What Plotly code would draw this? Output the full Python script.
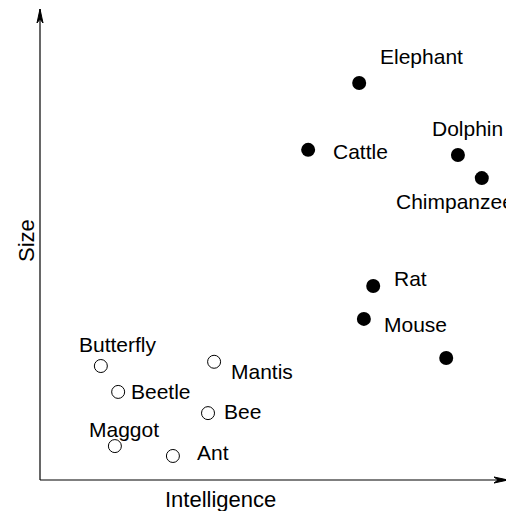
import plotly.graph_objects as go

# Data (arbitrary 0-100 scales)
big_names = ["Elephant", "Cattle", "Dolphin", "Chimpanzee", "Rat", "Mouse", ""]
big_intel = [68.2, 57.3, 89.3, 94.4, 71.2, 69.2, 86.8]
big_size = [84.3, 70.1, 69.0, 64.1, 41.2, 34.2, 25.9]

small_names = ["Butterfly", "Mantis", "Beetle", "Bee", "Maggot", "Ant"]
small_intel = [13.0, 37.2, 16.7, 35.9, 16.0, 28.4]
small_size = [24.2, 25.1, 18.7, 14.2, 7.2, 5.1]

x_title = "Intelligence"
y_title = "Size"

# label offsets in pixels (style)
offsets = {
    "Elephant": (20, 26.5), "Cattle": (24, -1.5), "Dolphin": (-27, 27),
    "Chimpanzee": (-87, -23.5), "Rat": (20, 7.5), "Mouse": (19, -6),
    "Butterfly": (-23, 22), "Mantis": (16, -9.5), "Beetle": (12, 0.5),
    "Bee": (15, 2), "Maggot": (-27, 17), "Ant": (23, 3.5),
}

FONT = "Liberation Sans, Arial, sans-serif"
FS = 21
fig = go.Figure()
fig.add_trace(go.Scatter(x=big_intel, y=big_size, mode="markers",
                         marker=dict(size=14, color="black", line=dict(width=0)),
                         hoverinfo="text", text=big_names))
fig.add_trace(go.Scatter(x=small_intel, y=small_size, mode="markers",
                         marker=dict(size=13, color="white", line=dict(width=1, color="black")),
                         hoverinfo="text", text=small_names))

anns = []
for names, xs, ys in ((big_names, big_intel, big_size), (small_names, small_intel, small_size)):
    for n, x, y in zip(names, xs, ys):
        if not n:
            continue
        dx, dy = offsets[n]
        anns.append(dict(x=x, y=y, text=n, showarrow=False, xanchor="left", yanchor="middle",
                         xshift=dx, yshift=dy, borderpad=0,
                         font=dict(family=FONT, size=FS, color="black")))

anns.append(dict(x=0.385, y=-0.0414, xref="paper", yref="paper", text=x_title, showarrow=False,
                 xanchor="center", yanchor="middle", font=dict(family=FONT, size=22, color="black")))
anns.append(dict(x=-0.0278, y=0.5096, xref="paper", yref="paper", text=y_title, showarrow=False,
                 textangle=-90, xanchor="center", yanchor="middle",
                 font=dict(family=FONT, size=22, color="black")))

shapes = [
    dict(type="line", xref="paper", yref="paper", x0=0, y0=0, x1=1, y1=0,
         line=dict(color="black", width=1.2)),
    dict(type="line", xref="paper", yref="paper", x0=0, y0=0, x1=0, y1=1,
         line=dict(color="black", width=1.2)),
    dict(type="path", xref="paper", yref="paper", xsizemode="pixel", ysizemode="pixel",
         xanchor=1, yanchor=0, path="M0,0 L-14,3 L-10,0 L-14,-3 Z",
         fillcolor="black", line=dict(color="black", width=1)),
    dict(type="path", xref="paper", yref="paper", xsizemode="pixel", ysizemode="pixel",
         xanchor=0, yanchor=1, path="M0,0 L3,-14 L0,-10 L-3,-14 Z",
         fillcolor="black", line=dict(color="black", width=1)),
]

# page body has an 8px margin, so the figure is 8px smaller and margins reduced by 8
fig.update_layout(
    width=506, height=503,
    margin=dict(l=32, r=6, t=1, b=31),
    paper_bgcolor="white", plot_bgcolor="white",
    showlegend=False,
    xaxis=dict(range=[0, 100], visible=False),
    yaxis=dict(range=[0, 100], visible=False),
    annotations=anns, shapes=shapes,
)
fig.write_html("out.html")
